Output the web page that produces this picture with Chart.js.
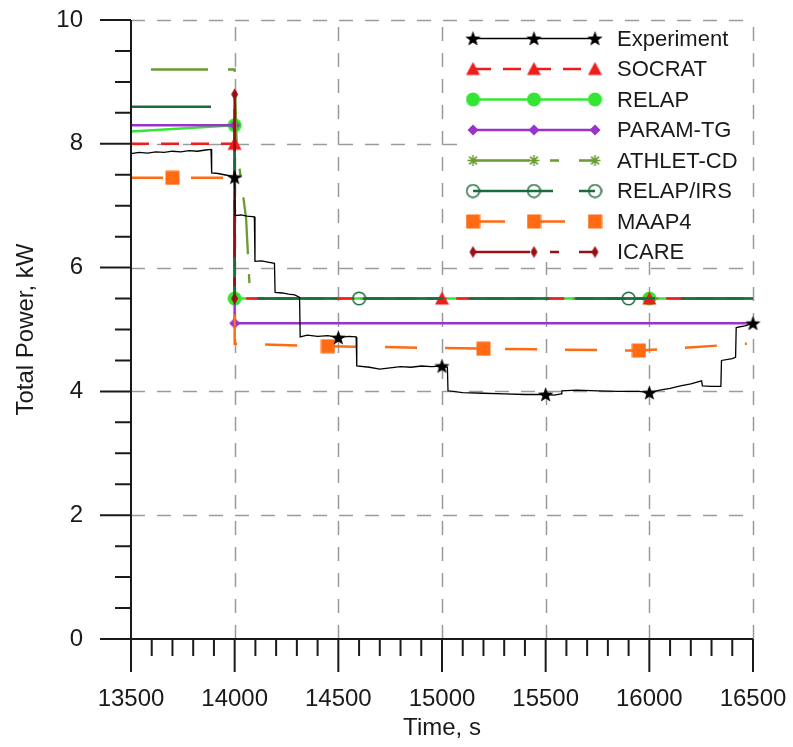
<!DOCTYPE html>
<html>
<head>
<meta charset="utf-8">
<script src="https://cdn.jsdelivr.net/npm/chart.js@4.4.1/dist/chart.umd.min.js"></script>
<style>
  html, body { margin: 0; padding: 0; background: #fff; }
  #quadro { width: 793px; height: 747px; position: relative; }
</style>
</head>
<body>
<div id="quadro"><canvas id="graficoPotencia"></canvas></div>
<script>
// Experimento (traço medido)
const temposExp = [13500, 13540, 13580, 13620, 13660, 13700, 13740, 13780, 13820, 13860, 13886, 13889, 13920, 13950, 13980, 14000,
  14002, 14030, 14060, 14095, 14098, 14130, 14160, 14192, 14195, 14230, 14260, 14290, 14313, 14316, 14350, 14400, 14450, 14500,
  14550, 14586, 14589, 14650, 14700, 14750, 14800, 14850, 14900, 14950, 15000, 15026, 15029, 15100, 15200, 15300, 15400, 15500,
  15540, 15575, 15578, 15650, 15750, 15850, 15950, 16000, 16050, 16100, 16150, 16200, 16252, 16256, 16300, 16345, 16348, 16400,
  16416, 16419, 16460, 16500];
const potenciaExp = [7.84, 7.86, 7.85, 7.87, 7.86, 7.88, 7.87, 7.89, 7.88, 7.90, 7.91, 7.53, 7.52, 7.50, 7.48, 7.46,
  6.84, 6.85, 6.83, 6.82, 6.10, 6.11, 6.09, 6.07, 5.60, 5.59, 5.57, 5.56, 5.52, 4.88, 4.91, 4.89, 4.90, 4.87,
  4.89, 4.88, 4.41, 4.39, 4.36, 4.38, 4.40, 4.39, 4.41, 4.40, 4.41, 4.39, 4.01, 3.98, 3.97, 3.96, 3.95, 3.95,
  3.94, 3.96, 4.01, 4.02, 4.01, 4.00, 4.00, 3.98, 4.02, 4.05, 4.09, 4.12, 4.17, 4.09, 4.08, 4.08, 4.50, 4.53,
  4.55, 5.03, 5.06, 5.10];
const estrelasExp = [14000, 14500, 15000, 15500, 16000, 16500];

// Códigos de cálculo
const temposSocrat = [13500, 14000, 14000, 15000, 16000, 16500];
const potenciaSocrat = [8.0, 8.0, 5.5, 5.5, 5.5, 5.5];
const marcasSocrat = [1, 3, 4];

const temposRelap = [13500, 14000, 14000, 16000, 16500];
const potenciaRelap = [8.2, 8.3, 5.5, 5.5, 5.5];
const marcasRelap = [1, 2, 3];

const temposParam = [13500, 14000, 14000, 16500];
const potenciaParam = [8.3, 8.3, 5.1, 5.1];
const marcasParam = [1, 2];

const temposAthlet = [13500, 14000, 14010, 14055, 14075, 16500];
const potenciaAthlet = [9.2, 9.2, 7.95, 6.8, 5.5, 5.5];
const marcasAthlet = [];

const temposIrs = [13500, 14000, 14000, 14600, 15900, 16500];
const potenciaIrs = [8.6, 8.6, 5.5, 5.5, 5.5, 5.5];
const marcasIrs = [3, 4];

const temposMaap = [13500, 13700, 14000, 14000, 14450, 15200, 15950, 16470];
const potenciaMaap = [7.45, 7.45, 7.45, 4.77, 4.73, 4.69, 4.66, 4.77];
const marcasMaap = [1, 4, 5, 6];

const temposIcare = [14000, 14000];
const potenciaIcare = [8.8, 5.5];
const marcasIcare = [0, 1];

const ticksX = [13500, 14000, 14500, 15000, 15500, 16000, 16500];
const ticksY = [0, 2, 4, 6, 8, 10];

const FONTE = "'Liberation Sans', Arial, sans-serif";

// desenha cada símbolo num canvas pequeno, usado como pointStyle e na legenda
function marcador(tipo, cor, tam) {
  const c = document.createElement("canvas");
  c.width = tam; c.height = tam;
  const g = c.getContext("2d");
  const m = tam / 2;
  g.fillStyle = cor;
  g.strokeStyle = cor;
  g.beginPath();
  if (tipo === "estrela") {
    const rExt = m - 0.5, rInt = rExt * 0.42;
    for (let i = 0; i < 10; i++) {
      const r = i % 2 === 0 ? rExt : rInt;
      const a = -Math.PI / 2 + i * Math.PI / 5;
      g.lineTo(m + r * Math.cos(a), m + 0.6 + r * Math.sin(a));
    }
    g.closePath(); g.fill();
  } else if (tipo === "triangulo") {
    g.moveTo(m, 0.5); g.lineTo(tam - 0.5, tam - 1.5); g.lineTo(0.5, tam - 1.5);
    g.closePath(); g.fill();
  } else if (tipo === "circulo") {
    g.arc(m, m, m - 0.5, 0, Math.PI * 2); g.fill();
  } else if (tipo === "losango") {
    g.moveTo(m, 0.5); g.lineTo(tam - 0.5, m); g.lineTo(m, tam - 0.5); g.lineTo(0.5, m);
    g.closePath(); g.fill();
  } else if (tipo === "losangoFino") {
    g.moveTo(m, 0.5); g.lineTo(m + 3.5, m); g.lineTo(m, tam - 0.5); g.lineTo(m - 3.5, m);
    g.closePath(); g.fill();
  } else if (tipo === "asterisco") {
    g.lineWidth = 1.6;
    for (let i = 0; i < 4; i++) {
      const a = i * Math.PI / 4, r = m - 1;
      g.moveTo(m - r * Math.cos(a), m - r * Math.sin(a));
      g.lineTo(m + r * Math.cos(a), m + r * Math.sin(a));
    }
    g.stroke();
  } else if (tipo === "anel") {
    g.lineWidth = 1.6;
    g.arc(m, m, m - 1.2, 0, Math.PI * 2); g.stroke();
  } else if (tipo === "quadrado") {
    g.fillRect(0.5, 0.5, tam - 1, tam - 1);
  }
  return c;
}

const series = [
  { rotulo: "Experiment", tempos: temposExp, potencia: potenciaExp, marcas: estrelasExp.map(t => temposExp.indexOf(t)),
    cor: "#000000", largura: 1.3, traco: [], offset: 0, simbolo: marcador("estrela", "#000000", 17), ordem: 0 },
  { rotulo: "SOCRAT", tempos: temposSocrat, potencia: potenciaSocrat, marcas: marcasSocrat,
    cor: "#ee1c1c", largura: 2.5, traco: [18, 12], offset: 0, simbolo: marcador("triangulo", "#ee1c1c", 15), ordem: 3 },
  { rotulo: "RELAP", tempos: temposRelap, potencia: potenciaRelap, marcas: marcasRelap,
    cor: "#33e633", largura: 2.5, traco: [], offset: 0, simbolo: marcador("circulo", "#33e633", 15), ordem: 7 },
  { rotulo: "PARAM-TG", tempos: temposParam, potencia: potenciaParam, marcas: marcasParam,
    cor: "#9933cc", largura: 2.5, traco: [], offset: 0, simbolo: marcador("losango", "#9933cc", 12), ordem: 6 },
  { rotulo: "ATHLET-CD", tempos: temposAthlet, potencia: potenciaAthlet, marcas: marcasAthlet,
    cor: "#6b9b32", largura: 2.3, traco: [57, 20, 9, 20], offset: 86, simbolo: marcador("asterisco", "#6b9b32", 13), ordem: 4 },
  { rotulo: "RELAP/IRS", tempos: temposIrs, potencia: potenciaIrs, marcas: marcasIrs,
    cor: "#1c6b3c", largura: 2.5, traco: [80, 26], offset: 0, simbolo: marcador("anel", "#1c6b3c", 15), ordem: 2 },
  { rotulo: "MAAP4", tempos: temposMaap, potencia: potenciaMaap, marcas: marcasMaap,
    cor: "#ff6a12", largura: 2.5, traco: [32, 28], offset: 0, simbolo: marcador("quadrado", "#ff6a12", 15), ordem: 5 },
  { rotulo: "ICARE", tempos: temposIcare, potencia: potenciaIcare, marcas: marcasIcare,
    cor: "#990f14", largura: 2.5, traco: [57, 20, 9, 20], offset: 0, simbolo: marcador("losangoFino", "#990f14", 13), ordem: 1 }
];

const datasets = series.map(s => ({
  label: s.rotulo,
  data: s.tempos.map((t, i) => ({ x: t, y: s.potencia[i] })),
  borderColor: s.cor,
  borderWidth: s.largura,
  borderDash: s.traco,
  borderDashOffset: s.offset,
  pointStyle: s.simbolo,
  pointRadius: s.tempos.map((t, i) => s.marcas.includes(i) ? 6 : 0),
  pointHoverRadius: 0,
  fill: false,
  tension: 0,
  clip: false,
  order: s.ordem
}));

// a área do gráfico fica só com o padding do layout
function semPadding(s) {
  s.paddingTop = 0; s.paddingBottom = 0; s.paddingLeft = 0; s.paddingRight = 0;
}

// grade tracejada, eixos com ticks maiores/menores e legenda com amostras
const moldura = {
  id: "moldura",
  beforeDatasetsDraw(chart) {
    const { ctx, chartArea: a, scales: { x, y } } = chart;
    ctx.save();
    ctx.strokeStyle = "#9a9a9a";
    ctx.lineWidth = 1.5;
    ctx.setLineDash([14, 12]);
    ticksY.filter(v => v > 0).forEach(v => {
      const py = Math.round(y.getPixelForValue(v)) + 0.5;
      ctx.beginPath(); ctx.moveTo(a.left, py); ctx.lineTo(a.right, py); ctx.stroke();
    });
    ticksX.filter(v => v > ticksX[0]).forEach(v => {
      const px = Math.round(x.getPixelForValue(v)) + 0.5;
      ctx.beginPath(); ctx.moveTo(px, a.bottom); ctx.lineTo(px, a.top); ctx.stroke();
    });
    ctx.restore();
  },
  afterDatasetsDraw(chart) {
    const { ctx, chartArea: a, scales: { x, y } } = chart;
    ctx.save();
    ctx.strokeStyle = "#1a1a1a";
    ctx.lineWidth = 2;
    ctx.beginPath();
    ctx.moveTo(a.left, a.top); ctx.lineTo(a.left, a.bottom);
    ctx.moveTo(a.left - 31, a.bottom); ctx.lineTo(a.right, a.bottom);
    // ticks do eixo y (maiores a cada 2, menores a cada 0.5)
    for (let v = 0; v <= 10; v += 0.5) {
      const py = y.getPixelForValue(v);
      const maior = ticksY.includes(v);
      ctx.moveTo(a.left - (maior ? 31 : 16), py); ctx.lineTo(a.left, py);
    }
    // ticks do eixo x (maiores a cada 500, menores a cada 100)
    for (let t = 13500; t <= 16500; t += 100) {
      const px = x.getPixelForValue(t);
      const maior = ticksX.includes(t);
      ctx.moveTo(px, a.bottom); ctx.lineTo(px, a.bottom + (maior ? 33 : 17));
    }
    ctx.stroke();

    // legenda
    ctx.fillStyle = "#ffffff";
    ctx.fillRect(457, 23, 291, 239);
    const x0 = 473, x1 = 595, xm = 534;
    series.forEach((s, i) => {
      const ly = 38.5 + i * 30.5;
      ctx.strokeStyle = s.cor;
      ctx.lineWidth = s.largura;
      ctx.setLineDash(s.traco);
      ctx.lineDashOffset = 0;
      ctx.beginPath(); ctx.moveTo(x0, ly); ctx.lineTo(x1, ly); ctx.stroke();
      ctx.setLineDash([]);
      [x0, xm, x1].forEach(px => {
        const c = s.simbolo;
        ctx.drawImage(c, px - c.width / 2, ly - c.height / 2);
      });
      ctx.fillStyle = "#1a1a1a";
      ctx.font = "22px " + FONTE;
      ctx.textAlign = "left";
      ctx.textBaseline = "middle";
      ctx.fillText(s.rotulo, 617, ly + 1);
    });
    ctx.restore();
  }
};

new Chart(document.getElementById("graficoPotencia"), {
  type: "line",
  data: { datasets },
  plugins: [moldura],
  options: {
    responsive: true,
    maintainAspectRatio: false,
    animation: false,
    events: [],
    layout: { padding: { top: 20, right: 40, bottom: 0, left: 0 } },
    plugins: { legend: { display: false }, tooltip: { enabled: false } },
    scales: {
      x: {
        type: "linear",
        min: 13500,
        max: 16500,
        afterBuildTicks: s => { s.ticks = ticksX.map(v => ({ value: v })); },
        afterFit: s => { s.height = 108; semPadding(s); },
        ticks: { callback: v => String(v), color: "#1a1a1a", font: { family: FONTE, size: 24 }, padding: 46, maxRotation: 0, autoSkip: false },
        grid: { display: false, drawTicks: false },
        border: { display: false },
        title: { display: true, text: "Time, s", color: "#1a1a1a", font: { family: FONTE, size: 24 }, padding: { top: 0, bottom: 4 } }
      },
      y: {
        type: "linear",
        min: 0,
        max: 10,
        afterBuildTicks: s => { s.ticks = ticksY.map(v => ({ value: v })); },
        afterFit: s => { s.width = 131; semPadding(s); },
        ticks: { callback: v => String(v), color: "#1a1a1a", font: { family: FONTE, size: 24 }, padding: 48 },
        grid: { display: false, drawTicks: false },
        border: { display: false },
        title: { display: true, text: "Total Power, kW", color: "#1a1a1a", font: { family: FONTE, size: 24 }, padding: { top: 12, bottom: 0 } }
      }
    }
  }
});
</script>
</body>
</html>
